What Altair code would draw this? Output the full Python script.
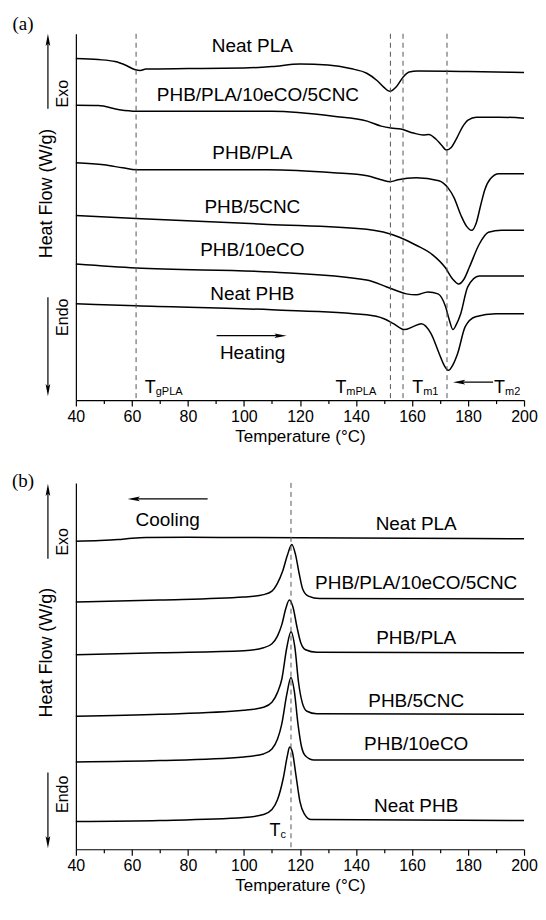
import altair as alt
import pandas as pd

FONT = "Liberation Sans"
SERIF = "Liberation Serif"

# ---------------- panel (a): heating scans (heat flow, vertically offset, arbitrary zero) ----------------
a_names = ["Neat PLA", "PHB/PLA/10eCO/5CNC", "PHB/PLA", "PHB/5CNC", "PHB/10eCO", "Neat PHB"]

a_neat_pla_T = [40, 48, 54, 58, 61, 63, 65, 80, 100, 110, 120, 130, 138, 144, 147.5, 150, 152, 154.5, 157, 159, 162, 180, 200]
a_neat_pla_hf = [3.44, 3.43, 3.41, 3.37, 3.33, 3.32, 3.335, 3.34, 3.345, 3.36, 3.385, 3.375, 3.34, 3.29, 3.22, 3.15, 3.11, 3.16, 3.26, 3.305, 3.315, 3.31, 3.30]

a_blend_T = [40, 48, 55.5, 61.5, 80, 110, 132, 144, 149, 152.5, 156, 160.5, 164, 166, 168.5, 170.5, 172.3, 174, 176, 178, 180, 183, 191, 200]
a_blend_hf = [2.97, 2.967, 2.925, 2.91, 2.91, 2.91, 2.86, 2.81, 2.76, 2.74, 2.73, 2.69, 2.67, 2.675, 2.63, 2.57, 2.52, 2.545, 2.64, 2.75, 2.82, 2.85, 2.85, 2.84]

a_phb_pla_T = [40, 50, 56.7, 61.5, 108.5, 132, 144, 149, 152.3, 155, 161.5, 169.6, 172.8, 175, 177.5, 179.5, 181.3, 183, 184.5, 186, 188, 191, 200]
a_phb_pla_hf = [2.39, 2.37, 2.34, 2.32, 2.32, 2.29, 2.26, 2.22, 2.20, 2.22, 2.24, 2.21, 2.14, 2.04, 1.86, 1.75, 1.71, 1.79, 1.96, 2.12, 2.23, 2.28, 2.28]

a_phb_cnc_T = [40, 61.5, 108.5, 143.8, 155.5, 161.5, 167.5, 172, 174.5, 176.7, 178.6, 180.5, 184, 187.3, 192, 200]
a_phb_cnc_hf = [1.86, 1.83, 1.77, 1.72, 1.64, 1.56, 1.46, 1.33, 1.22, 1.17, 1.22, 1.34, 1.57, 1.69, 1.71, 1.71]

a_phb_eco_T = [40, 61.5, 110, 143.8, 151, 158, 161.5, 165.7, 169.3, 172, 173.3, 174.6, 175.8, 177.4, 179.9, 184, 190, 200]
a_phb_eco_hf = [1.37, 1.33, 1.29, 1.21, 1.14, 1.07, 1.06, 1.09, 1.07, 0.94, 0.81, 0.71, 0.76, 0.87, 1.14, 1.25, 1.25, 1.25]

a_neat_phb_T = [40, 61.5, 110, 143.8, 150, 153.4, 157.3, 160.4, 163.3, 166.8, 169.7, 171.5, 173, 174.5, 176.3, 179, 182.7, 190, 200]
a_neat_phb_hf = [0.97, 0.95, 0.91, 0.86, 0.82, 0.77, 0.71, 0.74, 0.77, 0.67, 0.47, 0.35, 0.30, 0.35, 0.47, 0.74, 0.84, 0.87, 0.87]

a_label_T = [103, 105, 103, 103, 103, 103]
a_label_hf = [3.57, 3.07, 2.49, 1.95, 1.51, 1.07]
a_marker_T = [61.5, 152.3, 156.8, 172.5]

# ---------------- panel (b): cooling scans ----------------
b_names = ["Neat PLA", "PHB/PLA/10eCO/5CNC", "PHB/PLA", "PHB/5CNC", "PHB/10eCO", "Neat PHB"]

b_neat_pla_T = [40, 48.6, 55, 60, 65, 80, 120, 160, 200]
b_neat_pla_hf = [3.103, 3.11, 3.12, 3.133, 3.14, 3.142, 3.138, 3.132, 3.127]

b_blend_T = [40, 70, 100, 107, 110, 112, 113.8, 115.6, 117.1, 118.4, 119.7, 121, 123, 127, 200]
b_blend_hf = [2.49, 2.51, 2.54, 2.565, 2.60, 2.68, 2.80, 2.97, 3.07, 2.97, 2.78, 2.62, 2.55, 2.525, 2.52]

b_phb_pla_T = [40, 70, 100, 107, 110, 112, 113.5, 115, 116.2, 117.5, 119, 120.3, 122, 126, 200]
b_phb_pla_hf = [1.96, 1.98, 2.00, 2.03, 2.07, 2.15, 2.26, 2.43, 2.51, 2.44, 2.23, 2.08, 2.01, 1.985, 1.98]

b_phb_cnc_T = [40, 70, 100, 107, 110, 112, 113.5, 115.3, 116.8, 118.2, 119.5, 120.8, 122.5, 126, 200]
b_phb_cnc_hf = [1.34, 1.36, 1.40, 1.43, 1.48, 1.58, 1.71, 2.03, 2.19, 2.03, 1.68, 1.48, 1.39, 1.365, 1.36]

b_phb_eco_T = [40, 70, 100, 107, 110, 112, 113.5, 115.3, 116.8, 118, 119.3, 120.5, 122, 125, 200]
b_phb_eco_hf = [0.88, 0.893, 0.93, 0.96, 1.01, 1.11, 1.26, 1.56, 1.73, 1.59, 1.26, 1.04, 0.94, 0.90, 0.90]

b_neat_phb_T = [40, 70, 100, 107, 110, 112, 114, 115.5, 116.3, 117.3, 118.5, 120, 121.5, 124, 200]
b_neat_phb_hf = [0.28, 0.29, 0.32, 0.35, 0.40, 0.50, 0.71, 0.94, 1.03, 0.98, 0.76, 0.48, 0.36, 0.30, 0.29]

b_label_T = [161.5, 161.5, 161.5, 161.5, 161.5, 161.5]
b_label_hf = [3.28, 2.68, 2.13, 1.49, 1.06, 0.44]
b_marker_T = [116.8]

x_ticks = list(range(40, 201, 10))


def curves_df(names, Ts, hfs):
    rows = []
    for n, T, h in zip(names, Ts, hfs):
        for t, v in zip(T, h):
            rows.append({"series": n, "T": t, "hf": v})
    return pd.DataFrame(rows)


a_df = curves_df(a_names,
                 [a_neat_pla_T, a_blend_T, a_phb_pla_T, a_phb_cnc_T, a_phb_eco_T, a_neat_phb_T],
                 [a_neat_pla_hf, a_blend_hf, a_phb_pla_hf, a_phb_cnc_hf, a_phb_eco_hf, a_neat_phb_hf])
b_df = curves_df(b_names,
                 [b_neat_pla_T, b_blend_T, b_phb_pla_T, b_phb_cnc_T, b_phb_eco_T, b_neat_phb_T],
                 [b_neat_pla_hf, b_blend_hf, b_phb_pla_hf, b_phb_cnc_hf, b_phb_eco_hf, b_neat_phb_hf])

W, H = 449, 367
XS = alt.Scale(domain=[40, 200], nice=False, zero=False)
YS = alt.Scale(domain=[0, 3.69], nice=False, zero=False)
ONE = pd.DataFrame({"k": [0]})

x_axis = alt.Axis(values=x_ticks,
                  labelExpr="datum.value % 20 === 0 ? datum.label : ''",
                  tickSize={"condition": {"test": "datum.value % 20 === 0", "value": 6}, "value": 3.5},
                  tickColor="black", domainColor="black", domainWidth=1.2, tickWidth=1.2,
                  labelFont=FONT, labelFontSize=16, labelColor="black", labelPadding=2,
                  titleFont=FONT, titleFontSize=17, titleFontWeight="normal", titleColor="black",
                  titlePadding=4, grid=False, title="Temperature (°C)", labelFlush=False)
y_axis = alt.Axis(labels=False, ticks=False, title="", domainColor="black", domainWidth=1.2, grid=False)

UP = "M0,-1L0.38,1L0,0.6L-0.38,1Z"
DOWN = "M0,1L0.38,-1L0,-0.6L-0.38,-1Z"
RIGHT = "M1,0L-1,0.38L-0.6,0L-1,-0.38Z"
LEFT = "M-1,0L1,0.38L0.6,0L1,-0.38Z"


def ptext(txt, x, y, size=17, angle=0, align="center", baseline="middle", font=FONT):
    return alt.Chart(ONE).mark_text(text=txt, fontSize=size, angle=angle, align=align,
                                    baseline=baseline, font=font, color="black").encode(
        x=alt.value(x), y=alt.value(y))


def vrule(x, y1, y2):
    return alt.Chart(ONE).mark_rule(color="black", strokeWidth=1.2).encode(
        x=alt.value(x), y=alt.value(y1), y2=alt.value(y2))


def hrule(x1, x2, y):
    return alt.Chart(ONE).mark_rule(color="black", strokeWidth=1.2).encode(
        x=alt.value(x1), x2=alt.value(x2), y=alt.value(y))


def head(shape, x, y):
    return alt.Chart(ONE).mark_point(shape=shape, size=150, filled=True, color="black",
                                     opacity=1, strokeWidth=0).encode(x=alt.value(x), y=alt.value(y))


def tsub(main_x, base_y, sub):
    return [ptext("T", main_x, base_y, size=18, align="left", baseline="alphabetic"),
            ptext(sub, main_x + 11, base_y + 2, size=11, align="left", baseline="alphabetic")]


def panel(df, names, lab_T, lab_hf, marks_T, extra):
    lines = alt.Chart(df).mark_line(color="black", strokeWidth=1.5, interpolate="monotone").encode(
        x=alt.X("T:Q", scale=XS, axis=x_axis),
        y=alt.Y("hf:Q", scale=YS, axis=y_axis),
        detail="series:N")
    rules = alt.Chart(pd.DataFrame({"T": marks_T})).mark_rule(
        color="#555555", strokeWidth=1, strokeDash=[5, 4]).encode(
        x=alt.X("T:Q", scale=XS, axis=x_axis))
    labs = alt.Chart(pd.DataFrame({"label": names, "T": lab_T, "hf": lab_hf})).mark_text(
        font=FONT, fontSize=19, color="black").encode(
        x=alt.X("T:Q", scale=XS, axis=x_axis),
        y=alt.Y("hf:Q", scale=YS, axis=y_axis),
        text="label:N")
    return alt.layer(lines, rules, labs, *extra).properties(width=W, height=H)


a_extra = [
    ptext("(a)", -53, -10, size=19, font=SERIF),
    ptext("Heat Flow (W/g)", -29, 160, size=18, angle=270),
    ptext("Exo", -13, 60, size=16, angle=270),
    ptext("Endo", -13, 284, size=16, angle=270),
    vrule(-28, 6, 75), head(UP, -28, 6),
    vrule(-28, 264, 357), head(DOWN, -28, 357),
    ptext("Heating", 177, 320, size=19),
    hrule(141, 205, 302.5), head(RIGHT, 205, 302.5),
    hrule(384, 418, 349), head(LEFT, 384, 349),
    *tsub(69, 360, "gPLA"),
    *tsub(260, 360, "mPLA"),
    *tsub(337, 360, "m1"),
    *tsub(419, 360, "m2"),
]

b_extra = [
    ptext("(b)", -53, -2, size=19, font=SERIF),
    ptext("Heat Flow (W/g)", -29, 170, size=18, angle=270),
    ptext("Exo", -13, 59, size=16, angle=270),
    ptext("Endo", -13, 312, size=16, angle=270),
    vrule(-28, 7, 76), head(UP, -28, 7),
    vrule(-28, 290, 360), head(DOWN, -28, 360),
    ptext("Cooling", 92, 37, size=19),
    hrule(58, 132, 16), head(LEFT, 58, 16),
    *tsub(194, 354, "c"),
]

top = panel(a_df, a_names, a_label_T, a_label_hf, a_marker_T, a_extra)
bottom = panel(b_df, b_names, b_label_T, b_label_hf, b_marker_T, b_extra)

chart = alt.vconcat(top, bottom, spacing=83, bounds="flush").resolve_scale(
    x="independent", y="independent").configure_view(stroke=None).properties(
    padding={"left": 3, "top": 6, "right": 0, "bottom": 0})

chart.save("out.html", embed_options={"renderer": "svg", "actions": False})
